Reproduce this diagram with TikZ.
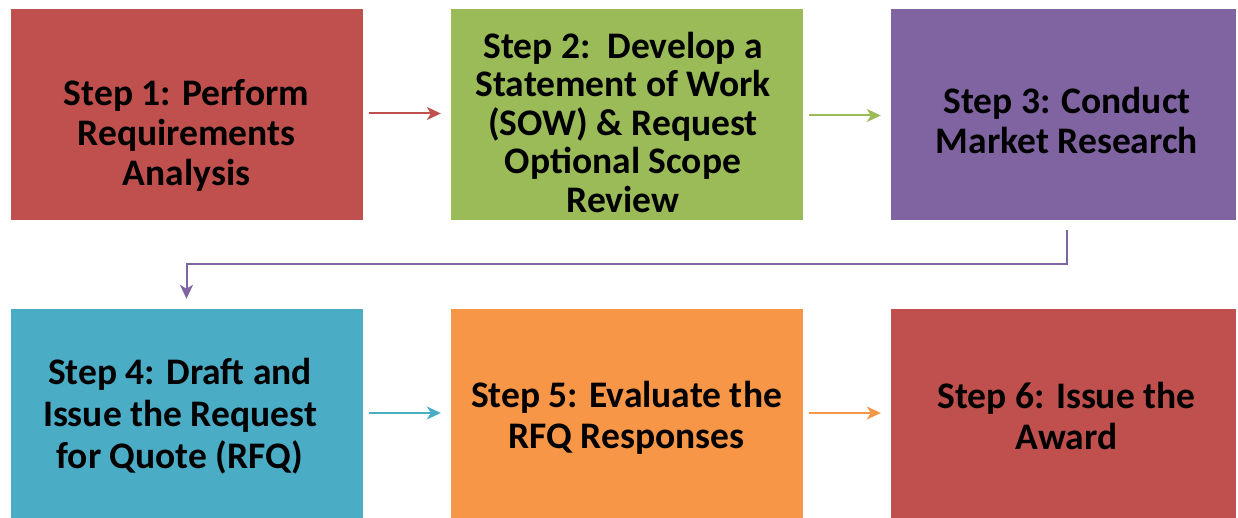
\documentclass[tikz,border=0pt]{standalone}
\usepackage{fontspec}
\setmainfont{Carlito}
\usetikzlibrary{arrows.meta}
\definecolor{cred}{HTML}{C0504D}
\definecolor{cgreen}{HTML}{9BBB59}
\definecolor{cpurple}{HTML}{8064A2}
\definecolor{cteal}{HTML}{4BACC6}
\definecolor{corange}{HTML}{F79646}
\tikzset{
  stepbox/.style={fill=#1, draw=none, minimum width=352pt, minimum height=211pt, inner sep=0pt},
  steptext/.style={align=center, font=\fontsize{37.5}{#1}\selectfont\bfseries, text=black, inner sep=0pt},
  steptext/.default=40,
  conn/.style={draw=#1, line width=2pt, -{Stealth[length=14pt,width=13pt,inset=4pt]}},
}
\begin{document}
\begin{tikzpicture}[x=1pt,y=1pt]
\useasboundingbox (0,0) rectangle (1238,518);
\clip (0,0) rectangle (1238,518);
\node[stepbox=cred] (s1) at (187,403.5) {};
\node[stepbox=cgreen] (s2) at (627,403.5) {};
\node[stepbox=cpurple, minimum width=345pt] (s3) at (1063.5,403.5) {};
\node[stepbox=cteal] (s4) at (187,103.5) {};
\node[stepbox=corange] (s5) at (627,103.5) {};
\node[stepbox=cred, minimum width=345pt] (s6) at (1063.5,103.5) {};
\node[steptext] (t1) at (186.5,382.5) {Step 1: Perform\\Requirements\\Analysis};
\node[steptext=38.5] (t2) at (623,396) {Step 2:\ \ Develop a\\Statement of Work\\(SOW) \& Request\\Optional Scope\\Review};
\node[steptext] (t3) at (1067,397.5) {Step 3: Conduct\\Market Research};
\node[steptext=42] (t4) at (180,101.5) {Step 4: Draft and\\Issue the Request\\for Quote (RFQ)};
\node[steptext=41] (t5) at (626.5,100) {Step 5: Evaluate the\\RFQ Responses};
\node[steptext=41] (t6) at (1066.5,102.5) {Step 6: Issue the\\Award};
\draw[conn=cred] ([xshift=6pt,yshift=1pt]s1.east) -- ([xshift=-10pt,yshift=1pt]s2.west);
\draw[conn=cgreen] ([xshift=6pt,yshift=-1pt]s2.east) -- ([xshift=-10pt,yshift=-1pt]s3.west);
\draw[conn=cteal] ([xshift=6pt,yshift=1.5pt]s4.east) -- ([xshift=-10pt,yshift=1.5pt]s5.west);
\draw[conn=corange] ([xshift=6pt,yshift=1.5pt]s5.east) -- ([xshift=-10pt,yshift=1.5pt]s6.west);
\coordinate (elbow) at (1067,253.5);
\draw[conn=cpurple] ([yshift=-10pt]s3.south -| elbow) -- (elbow) -| ([yshift=10pt]s4.north -| 186.5,0);
\end{tikzpicture}
\end{document}
